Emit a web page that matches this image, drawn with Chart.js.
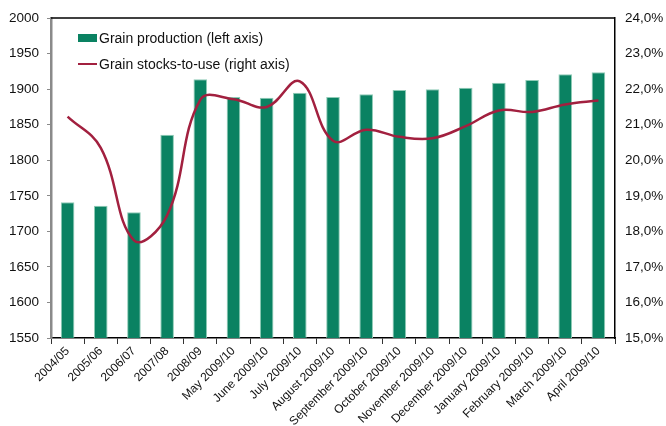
<!DOCTYPE html>
<html>
<head>
<meta charset="utf-8">
<script src="https://cdn.jsdelivr.net/npm/chart.js@4.4.1/dist/chart.umd.min.js"></script>
<style>
  html, body { margin: 0; padding: 0; background: #fff; }
  #wrap { position: relative; width: 666px; height: 426px; }
  #legend { position: absolute; left: 78px; top: 25px; font: 14px 'Liberation Sans', Arial, sans-serif; color: #111; }
  .leg-item { display: flex; align-items: center; height: 26px; }
  .leg-swatch { width: 19px; margin-right: 2px; }
</style>
</head>
<body>
<div id="wrap">
  <canvas id="chart"></canvas>
  <div id="legend"></div>
</div>
<script>
'use strict';

const categories = [
  '2004/05', '2005/06', '2006/07', '2007/08', '2008/09',
  'May 2009/10', 'June 2009/10', 'July 2009/10', 'August 2009/10',
  'September 2009/10', 'October 2009/10', 'November 2009/10', 'December 2009/10',
  'January 2009/10', 'February 2009/10', 'March 2009/10', 'April 2009/10',
];

// million tonnes, left axis
const production = [
  1741, 1736, 1727, 1836, 1914,
  1889, 1888, 1895, 1889,
  1893, 1899, 1900, 1902,
  1909, 1913, 1921, 1924,
];

// percent, right axis
const stocksToUse = [
  21.23, 20.35, 17.75, 18.45, 21.7,
  21.72, 21.5, 22.22, 20.55,
  20.86, 20.66, 20.62, 20.96,
  21.4, 21.36, 21.57, 21.68,
];

const leftTicks = { min: 1550, max: 2000, step: 50 };
const rightTicks = { min: 15, max: 24, step: 1 };

const BAR_GREEN = '#0a8262';
const LINE_RED = '#a2203f';
const FONT = "'Liberation Sans', Arial, sans-serif";

const topBorder = {
  id: 'topBorder',
  afterDraw(chart) {
    const { ctx, chartArea } = chart;
    ctx.save();
    ctx.strokeStyle = '#000';
    ctx.lineWidth = 1.5;
    ctx.beginPath();
    ctx.moveTo(chartArea.left, chartArea.top);
    ctx.lineTo(chartArea.right, chartArea.top);
    ctx.stroke();
    ctx.restore();
  },
};

const chart = new Chart(document.getElementById('chart'), {
  type: 'bar',
  data: {
    labels: categories,
    datasets: [
      {
        type: 'line',
        label: 'Grain stocks-to-use (right axis)',
        data: stocksToUse,
        yAxisID: 'y2',
        borderColor: LINE_RED,
        borderWidth: 2.5,
        pointRadius: 0,
        tension: 0.4,
        fill: false,
        order: 0,
      },
      {
        type: 'bar',
        label: 'Grain production (left axis)',
        data: production,
        yAxisID: 'y',
        backgroundColor: BAR_GREEN,
        borderColor: '#8fcbb6',
        borderWidth: { left: 1, right: 1, top: 1, bottom: 0 },
        barPercentage: 0.41,
        categoryPercentage: 1,
        order: 1,
      },
    ],
  },
  options: {
    responsive: true,
    maintainAspectRatio: false,
    animation: false,
    layout: { padding: { top: 15, left: 0, right: 0, bottom: 0 } },
    plugins: { legend: { display: false }, tooltip: { enabled: false } },
    scales: {
      x: {
        offset: true,
        grid: { display: true, drawOnChartArea: false, offset: true, tickLength: 6, color: '#333' },
        border: { color: '#000', width: 1.5 },
        ticks: {
          color: '#111', font: { family: FONT, size: 12 },
          minRotation: 45, maxRotation: 45, autoSkip: false, padding: 0,
        },
        afterFit: (s) => { s.height = 88; },
      },
      y: {
        position: 'left',
        min: leftTicks.min,
        max: leftTicks.max,
        grid: { drawOnChartArea: false, tickLength: 4, color: '#8a8a8a' },
        border: { color: '#8a8a8a', width: 2.5 },
        ticks: {
          stepSize: leftTicks.step, color: '#111', font: { family: FONT, size: 13.5 }, padding: 8,
          callback: (v) => String(v),
        },
        afterFit: (s) => { s.width = 51; },
      },
      y2: {
        position: 'right',
        min: rightTicks.min,
        max: rightTicks.max,
        grid: { drawOnChartArea: false, drawTicks: false },
        border: { color: '#000', width: 1.5 },
        ticks: {
          stepSize: rightTicks.step, color: '#111', font: { family: FONT, size: 13.5 }, padding: 10,
          callback: (v) => v.toFixed(1).replace('.', ',') + '%',
        },
        afterFit: (s) => { s.width = 51; },
      },
    },
  },
  plugins: [topBorder],
});

const legendItems = [
  { label: 'Grain production (left axis)', kind: 'box', color: BAR_GREEN },
  { label: 'Grain stocks-to-use (right axis)', kind: 'line', color: LINE_RED },
];
document.getElementById('legend').innerHTML = legendItems.map(it => `
  <div class="leg-item">
    <span class="leg-swatch" style="height:${it.kind === 'box' ? 8 : 2.5}px;background:${it.color}"></span>
    <span>${it.label}</span>
  </div>
`).join('');
</script>
</body>
</html>
